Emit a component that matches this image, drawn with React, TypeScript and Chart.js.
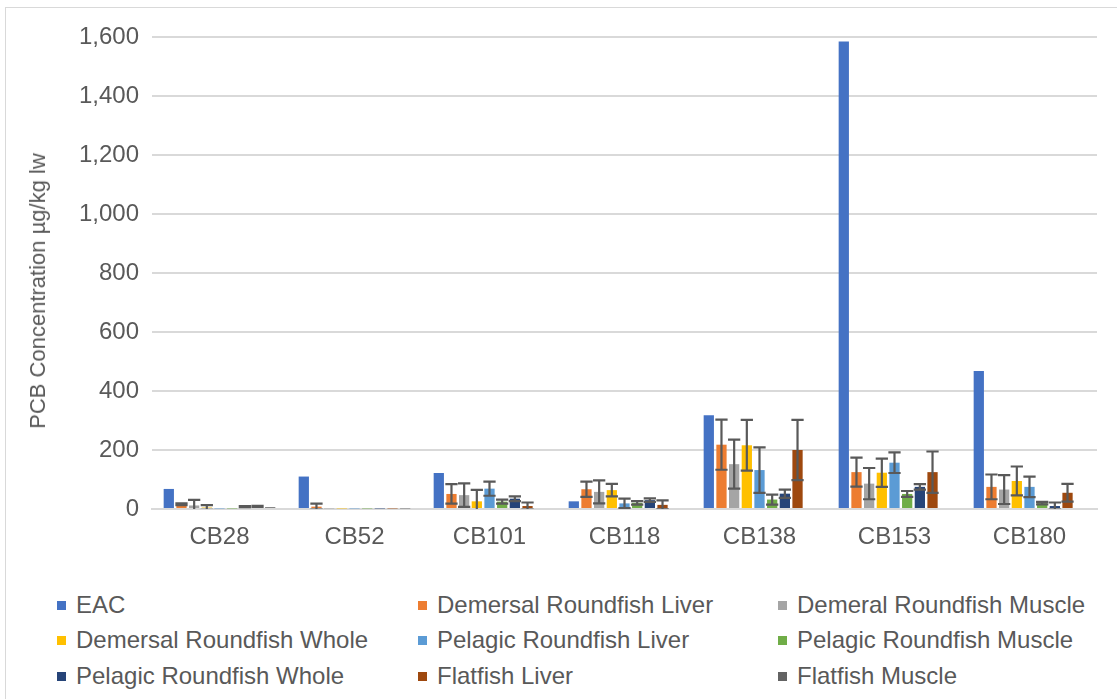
import React, { useEffect, useRef } from "react";
import { Chart, registerables } from "chart.js";

Chart.register(...registerables);

const categories = ["CB28", "CB52", "CB101", "CB118", "CB138", "CB153", "CB180"];
const yTicks = [0, 200, 400, 600, 800, 1000, 1200, 1400, 1600];
const yTitle = "PCB Concentration µg/kg lw";

const seriesNames = [
  "EAC",
  "Demersal Roundfish Liver",
  "Demeral Roundfish Muscle",
  "Demersal Roundfish Whole",
  "Pelagic Roundfish Liver",
  "Pelagic Roundfish Muscle",
  "Pelagic Roundfish Whole",
  "Flatfish Liver",
  "Flatfish Muscle",
];
const seriesColors = ["#4472C4", "#ED7D31", "#A5A5A5", "#FFC000", "#5B9BD5", "#70AD47", "#264478", "#9E480E", "#636363"];

const eac = [68, 110, 122, 26, 318, 1585, 468];
const demersalLiver = [16, 8, 51, 67, 218, 125, 75];
const demersalLiverErr = [3, 10, 33, 26, 85, 49, 42];
const demeralMuscle = [12, 2, 47, 58, 152, 86, 66];
const demeralMuscleErr = [19, 0, 40, 39, 83, 53, 49];
const demersalWhole = [5, 2, 26, 64, 216, 123, 95];
const demersalWholeErr = [8, 0, 39, 21, 86, 48, 49];
const pelagicLiver = [2, 2, 69, 19, 132, 157, 75];
const pelagicLiverErr = [0, 0, 24, 16, 77, 35, 35];
const pelagicMuscle = [2, 2, 25, 21, 32, 51, 20];
const pelagicMuscleErr = [0, 0, 7, 6, 17, 10, 4];
const pelagicWhole = [8, 2, 35, 30, 52, 75, 10];
const pelagicWholeErr = [2, 0, 8, 6, 14, 9, 12];
const flatfishLiver = [9, 2, 10, 14, 200, 125, 55];
const flatfishLiverErr = [2, 0, 12, 15, 102, 70, 30];
const flatfishMuscle = [6, 2, 0, 0, 0, 0, 0];
const flatfishMuscleErr = [0, 0, 0, 0, 0, 0, 0];

const seriesValues = [eac, demersalLiver, demeralMuscle, demersalWhole, pelagicLiver, pelagicMuscle, pelagicWhole, flatfishLiver, flatfishMuscle];
const seriesErrors = [null, demersalLiverErr, demeralMuscleErr, demersalWholeErr, pelagicLiverErr, pelagicMuscleErr, pelagicWholeErr, flatfishLiverErr, flatfishMuscleErr];

const FONT = "'Liberation Sans', Arial, sans-serif";
const TEXT = "#595959";

const errorBarPlugin = {
  id: "errorBars",
  afterDatasetsDraw(chart: any) {
    const ctx = chart.ctx;
    const y = chart.scales.y;
    const a = chart.chartArea;
    ctx.save();
    ctx.beginPath();
    ctx.rect(a.left, a.top, a.right - a.left, a.bottom - a.top);
    ctx.clip();
    ctx.strokeStyle = "#595959";
    ctx.lineWidth = 2.2;
    chart.data.datasets.forEach((ds: any, i: number) => {
      const errs = ds.errors;
      if (!errs) return;
      const meta = chart.getDatasetMeta(i);
      meta.data.forEach((bar: any, j: number) => {
        const e = errs[j];
        if (!e) return;
        const v = ds.data[j];
        const yt = y.getPixelForValue(v + e);
        const yb = y.getPixelForValue(v - e);
        const half = bar.width / 2 + 1;
        ctx.beginPath();
        ctx.moveTo(bar.x, yt);
        ctx.lineTo(bar.x, yb);
        ctx.moveTo(bar.x - half, yt);
        ctx.lineTo(bar.x + half, yt);
        ctx.moveTo(bar.x - half, yb);
        ctx.lineTo(bar.x + half, yb);
        ctx.stroke();
      });
    });
    ctx.restore();
  },
};

export default function App() {
  const ref = useRef<HTMLCanvasElement | null>(null);

  useEffect(() => {
    if (!ref.current) return;
    const chart = new Chart(ref.current, {
      type: "bar",
      data: {
        labels: categories,
        datasets: seriesNames.map((name, i) => ({
          label: name,
          data: seriesValues[i],
          errors: seriesErrors[i],
          backgroundColor: seriesColors[i],
          borderWidth: 0,
          categoryPercentage: 0.845,
          barPercentage: 0.81,
        })) as any,
      },
      options: {
        responsive: false,
        animation: false,
        devicePixelRatio: 1,
        layout: { padding: { left: 0, top: 37, right: 20, bottom: 0 } },
        plugins: { legend: { display: false }, tooltip: { enabled: false } },
        scales: {
          x: {
            grid: { display: false, drawTicks: false },
            border: { display: true, color: "#D9D9D9", width: 2 },
            ticks: { color: TEXT, font: { family: FONT, size: 24 }, padding: 14 },
            afterFit: (s: any) => {
              s.height = 61;
            },
          },
          y: {
            min: 0,
            max: 1600,
            afterBuildTicks: (s: any) => {
              s.ticks = yTicks.map((v) => ({ value: v }));
            },
            grid: { color: "#D9D9D9", lineWidth: 2, drawTicks: false },
            border: { display: false },
            ticks: {
              color: TEXT,
              font: { family: FONT, size: 24 },
              padding: 13,
              callback: (v: any) => Number(v).toLocaleString("en-US"),
            },
            afterFit: (s: any) => {
              s.width = 152;
            },
          },
        },
      },
      plugins: [errorBarPlugin],
    });
    return () => chart.destroy();
  }, []);

  const textCols = [76, 437, 797];
  const rows = [605, 640, 676];

  return (
    <div style={{ position: "fixed", left: 0, top: 0, width: 1117, height: 699, background: "#fff", overflow: "hidden" }}>
      <div style={{ position: "absolute", left: 5, top: 7, width: 1130, height: 720, border: "1px solid #D9D9D9" }} />
      <canvas ref={ref} width={1117} height={570} style={{ position: "absolute", left: 0, top: 0, width: 1117, height: 570 }} />
      <div
        style={{
          position: "absolute",
          left: 38,
          top: 291,
          transform: "translate(-50%, -50%) rotate(-90deg)",
          fontFamily: FONT,
          fontSize: 22,
          color: TEXT,
          whiteSpace: "nowrap",
          lineHeight: "26px",
        }}
      >
        {yTitle}
      </div>
      {seriesNames.map((name, i) => {
        const c = textCols[i % 3];
        const r = rows[Math.floor(i / 3)];
        return (
          <div key={name} style={{ position: "absolute", left: c - 19, top: r - 15, height: 30, display: "flex", alignItems: "center", whiteSpace: "nowrap" }}>
            <span style={{ display: "inline-block", width: 9, height: 9, background: seriesColors[i], marginRight: 10 }} />
            <span style={{ fontFamily: FONT, fontSize: 24, color: TEXT, lineHeight: "30px" }}>{name}</span>
          </div>
        );
      })}
    </div>
  );
}
